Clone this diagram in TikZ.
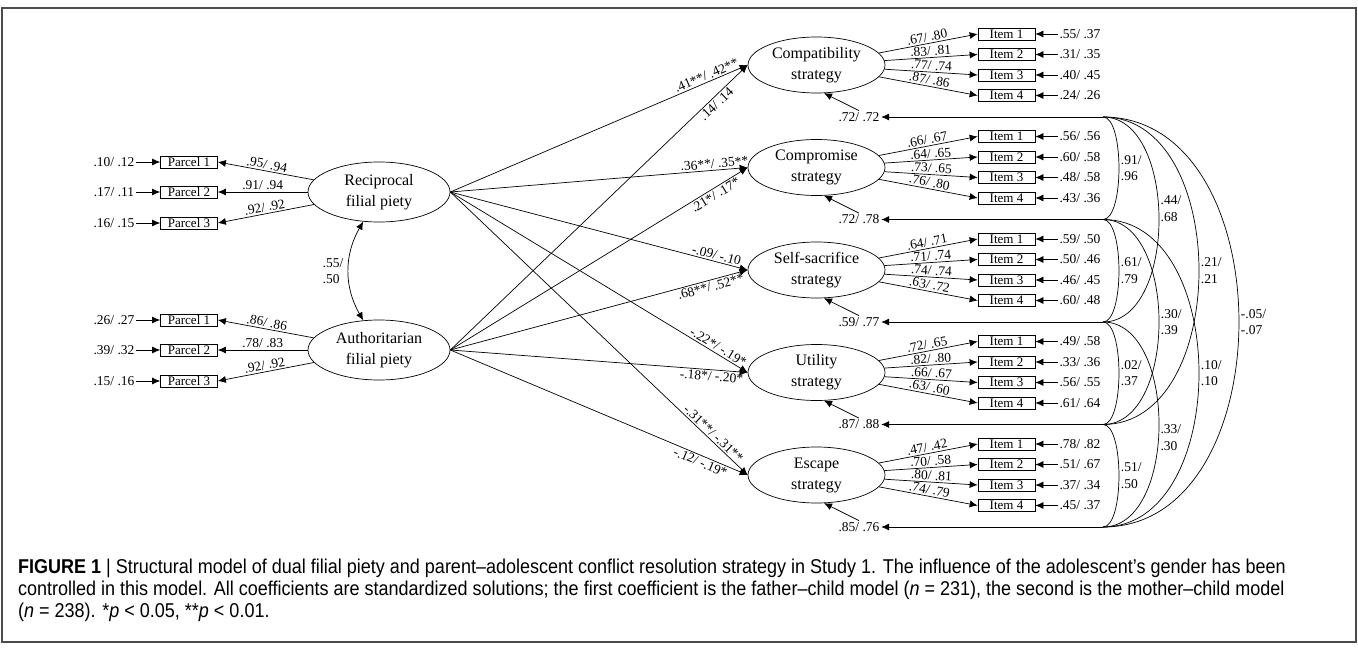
\documentclass[tikz,border=0pt]{standalone}
\usepackage{fontspec}
\setmainfont{Liberation Serif}
\newfontfamily\capfont[FakeStretch=0.9]{Liberation Sans}
\usetikzlibrary{shapes.geometric,arrows.meta}
\tikzstyle{latent}=[shape = ellipse, draw, line width = 0.7pt, inner sep = 0pt, align = center, font = \fontsize{16}{21}\selectfont]
\tikzstyle{latentL}=[latent, minimum width = 142pt, minimum height = 60pt]
\tikzstyle{latentR}=[latent, minimum width = 137pt, minimum height = 56pt]
\tikzstyle{observed}=[shape = rectangle, draw, line width = 0.7pt, minimum width = 57pt, minimum height = 12pt, inner sep = 0.5pt, font = \fontsize{13}{14}\selectfont]
\tikzstyle{val}=[inner sep = 1.6pt, font = \fontsize{13.5}{16.5}\selectfont]
\tikzstyle{arr}=[-{Latex[length=8pt,width=7pt]}, line width = 0.7pt]
\tikzstyle{twoway}=[{Latex[length=8pt,width=7pt]}-{Latex[length=8pt,width=7pt]}, line width = 0.7pt]
\tikzstyle{cov}=[line width = 0.7pt]

\begin{document}
\begin{tikzpicture}[x = 1pt, y = -1pt]
\tikzstyle{captext}=[anchor = base west, inner sep = 0pt, font = \capfont\fontsize{20}{22}\selectfont]
\useasboundingbox (0,0) rectangle (1358,650);
\draw[gray!60!black, line width = 1.2pt] (2,8) rectangle (1356,642);

\node[latentL] (rec) at (379,192) {Reciprocal\\filial piety};
\node[latentL] (aut) at (379,350) {Authoritarian\\filial piety};
\node[latentR] (cs1) at (816.5,65) {Compatibility\\strategy};
\node[latentR] (cs2) at (816.5,167.5) {Compromise\\strategy};
\node[latentR] (cs3) at (816.5,270) {Self-sacrifice\\strategy};
\node[latentR] (cs4) at (816.5,372.5) {Utility\\strategy};
\node[latentR] (cs5) at (816.5,475) {Escape\\strategy};

\node[observed] (rp1) at (189,162) {Parcel 1};
\node[observed] (rp2) at (189,192) {Parcel 2};
\node[observed] (rp3) at (189,223) {Parcel 3};
\node[observed] (ap1) at (189,320) {Parcel 1};
\node[observed] (ap2) at (189,350) {Parcel 2};
\node[observed] (ap3) at (189,381) {Parcel 3};
\node[val] (re1) at (114,162) {.10/ .12};
\node[val] (re2) at (114,192) {.17/ .11};
\node[val] (re3) at (114,223) {.16/ .15};
\node[val] (ae1) at (114,320) {.26/ .27};
\node[val] (ae2) at (114,350) {.39/ .32};
\node[val] (ae3) at (114,381) {.15/ .16};
\draw[arr] (re1) -- (rp1);
\draw[arr] (re2) -- (rp2);
\draw[arr] (re3) -- (rp3);
\draw[arr] (ae1) -- (ap1);
\draw[arr] (ae2) -- (ap2);
\draw[arr] (ae3) -- (ap3);
\draw[arr] (rec) -- node[val, sloped, above] {.95/ .94} (rp1.east);
\draw[arr] (rec) -- node[val, sloped, above] {.91/ .94} (rp2.east);
\draw[arr] (rec) -- node[val, sloped, above] {.92/ .92} (rp3.east);
\draw[arr] (aut) -- node[val, sloped, above] {.86/ .86} (ap1.east);
\draw[arr] (aut) -- node[val, sloped, above] {.78/ .83} (ap2.east);
\draw[arr] (aut) -- node[val, sloped, above] {.92/ .92} (ap3.east);
\draw[twoway] (rec.-118) to[bend right = 30] (aut.118);
\node[val, align = left] (c0) at (333,271) {.55/\\.50};

\draw[arr] (rec.east) -- node[val, sloped, above, pos = 0.87] {.41**/ .42**} (cs1.west);
\draw[arr] (aut.east) -- node[val, sloped, below, pos = 0.88] {.14/ .14} (cs1.west);
\draw[arr] (rec.east) -- node[val, sloped, above, pos = 0.89] {.36**/ .35**} (cs2.west);
\draw[arr] (aut.east) -- node[val, sloped, below, pos = 0.88] {.21*/ .17*} (cs2.west);
\draw[arr] (rec.east) -- node[val, sloped, above, pos = 0.89] {-.09/ -.10} (cs3.west);
\draw[arr] (aut.east) -- node[val, sloped, below, pos = 0.87] {.68**/ .52**} (cs3.west);
\draw[arr] (rec.east) -- node[val, sloped, above, pos = 0.89] {-.22*/ -.19*} (cs4.west);
\draw[arr] (aut.east) -- node[val, sloped, below, pos = 0.88] {-.18*/ -.20*} (cs4.west);
\draw[arr] (rec.east) -- node[val, sloped, above, pos = 0.87] {-.31**/ -.31**} (cs5.west);
\draw[arr] (aut.east) -- node[val, sloped, below, pos = 0.85] {-.12/ -.19*} (cs5.west);

\node[observed] (i11) at (1006.5,34) {Item 1};
\node[observed] (i12) at (1006.5,54.5) {Item 2};
\node[observed] (i13) at (1006.5,75) {Item 3};
\node[observed] (i14) at (1006.5,95.5) {Item 4};
\node[observed] (i21) at (1006.5,136.5) {Item 1};
\node[observed] (i22) at (1006.5,157) {Item 2};
\node[observed] (i23) at (1006.5,177.5) {Item 3};
\node[observed] (i24) at (1006.5,198) {Item 4};
\node[observed] (i31) at (1006.5,239) {Item 1};
\node[observed] (i32) at (1006.5,259.5) {Item 2};
\node[observed] (i33) at (1006.5,280) {Item 3};
\node[observed] (i34) at (1006.5,300.5) {Item 4};
\node[observed] (i41) at (1006.5,341.5) {Item 1};
\node[observed] (i42) at (1006.5,362) {Item 2};
\node[observed] (i43) at (1006.5,382.5) {Item 3};
\node[observed] (i44) at (1006.5,403) {Item 4};
\node[observed] (i51) at (1006.5,444) {Item 1};
\node[observed] (i52) at (1006.5,464.5) {Item 2};
\node[observed] (i53) at (1006.5,485) {Item 3};
\node[observed] (i54) at (1006.5,505.5) {Item 4};

\node[val] (e11) at (1080,34) {.55/ .37};
\node[val] (e12) at (1080,54.5) {.31/ .35};
\node[val] (e13) at (1080,75) {.40/ .45};
\node[val] (e14) at (1080,95.5) {.24/ .26};
\node[val] (e21) at (1080,136.5) {.56/ .56};
\node[val] (e22) at (1080,157) {.60/ .58};
\node[val] (e23) at (1080,177.5) {.48/ .58};
\node[val] (e24) at (1080,198) {.43/ .36};
\node[val] (e31) at (1080,239) {.59/ .50};
\node[val] (e32) at (1080,259.5) {.50/ .46};
\node[val] (e33) at (1080,280) {.46/ .45};
\node[val] (e34) at (1080,300.5) {.60/ .48};
\node[val] (e41) at (1080,341.5) {.49/ .58};
\node[val] (e42) at (1080,362) {.33/ .36};
\node[val] (e43) at (1080,382.5) {.56/ .55};
\node[val] (e44) at (1080,403) {.61/ .64};
\node[val] (e51) at (1080,444) {.78/ .82};
\node[val] (e52) at (1080,464.5) {.51/ .67};
\node[val] (e53) at (1080,485) {.37/ .34};
\node[val] (e54) at (1080,505.5) {.45/ .37};

\draw[arr] (e11) -- (i11);
\draw[arr] (e12) -- (i12);
\draw[arr] (e13) -- (i13);
\draw[arr] (e14) -- (i14);
\draw[arr] (e21) -- (i21);
\draw[arr] (e22) -- (i22);
\draw[arr] (e23) -- (i23);
\draw[arr] (e24) -- (i24);
\draw[arr] (e31) -- (i31);
\draw[arr] (e32) -- (i32);
\draw[arr] (e33) -- (i33);
\draw[arr] (e34) -- (i34);
\draw[arr] (e41) -- (i41);
\draw[arr] (e42) -- (i42);
\draw[arr] (e43) -- (i43);
\draw[arr] (e44) -- (i44);
\draw[arr] (e51) -- (i51);
\draw[arr] (e52) -- (i52);
\draw[arr] (e53) -- (i53);
\draw[arr] (e54) -- (i54);

\draw[arr] (cs1) -- node[val, sloped, above] {.67/ .80} (i11.west);
\draw[arr] (cs1) -- node[val, sloped, above] {.83/ .81} (i12.west);
\draw[arr] (cs1) -- node[val, sloped, above] {.77/ .74} (i13.west);
\draw[arr] (cs1) -- node[val, sloped, above] {.87/ .86} (i14.west);
\draw[arr] (cs2) -- node[val, sloped, above] {.66/ .67} (i21.west);
\draw[arr] (cs2) -- node[val, sloped, above] {.64/ .65} (i22.west);
\draw[arr] (cs2) -- node[val, sloped, above] {.73/ .65} (i23.west);
\draw[arr] (cs2) -- node[val, sloped, above] {.76/ .80} (i24.west);
\draw[arr] (cs3) -- node[val, sloped, above] {.64/ .71} (i31.west);
\draw[arr] (cs3) -- node[val, sloped, above] {.71/ .74} (i32.west);
\draw[arr] (cs3) -- node[val, sloped, above] {.74/ .74} (i33.west);
\draw[arr] (cs3) -- node[val, sloped, above] {.63/ .72} (i34.west);
\draw[arr] (cs4) -- node[val, sloped, above] {.72/ .65} (i41.west);
\draw[arr] (cs4) -- node[val, sloped, above] {.82/ .80} (i42.west);
\draw[arr] (cs4) -- node[val, sloped, above] {.66/ .67} (i43.west);
\draw[arr] (cs4) -- node[val, sloped, above] {.63/ .60} (i44.west);
\draw[arr] (cs5) -- node[val, sloped, above] {.47/ .42} (i51.west);
\draw[arr] (cs5) -- node[val, sloped, above] {.70/ .58} (i52.west);
\draw[arr] (cs5) -- node[val, sloped, above] {.80/ .81} (i53.west);
\draw[arr] (cs5) -- node[val, sloped, above] {.74/ .79} (i54.west);

\node[val] (r1) at (859,117) {.72/ .72};
\node[val] (r2) at (859,219.5) {.72/ .78};
\node[val] (r3) at (859,322) {.59/ .77};
\node[val] (r4) at (859,424.5) {.87/ .88};
\node[val] (r5) at (859,527) {.85/ .76};
\draw[arr] (r1.north) -- (cs1.-75);
\draw[arr] (r2.north) -- (cs2.-75);
\draw[arr] (r3.north) -- (cs3.-75);
\draw[arr] (r4.north) -- (cs4.-75);
\draw[arr] (r5.north) -- (cs5.-75);
\coordinate (h1) at (1103,117);
\coordinate (h2) at (1103,219.5);
\coordinate (h3) at (1103,322);
\coordinate (h4) at (1103,424.5);
\coordinate (h5) at (1103,527);
\draw[arr] (h1) -- (r1);
\draw[arr] (h2) -- (r2);
\draw[arr] (h3) -- (r3);
\draw[arr] (h4) -- (r4);
\draw[arr] (h5) -- (r5);

\draw[cov] (h1) .. controls +(21.3,0) and +(21.3,0) .. node[val, right, align = left] {.91/\\.96} (h2);
\draw[cov] (h2) .. controls +(21.3,0) and +(21.3,0) .. node[val, right, align = left] {.61/\\.79} (h3);
\draw[cov] (h3) .. controls +(21.3,0) and +(21.3,0) .. node[val, right, align = left] {.02/\\.37} (h4);
\draw[cov] (h4) .. controls +(21.3,0) and +(21.3,0) .. node[val, right, align = left] {.51/\\.50} (h5);
\draw[cov] (h1) .. controls +(74.7,0) and +(74.7,0) .. node[val, right, align = left, pos = 0.465] {.44/\\.68} (h3);
\draw[cov] (h2) .. controls +(74.7,0) and +(74.7,0) .. node[val, right, align = left] {.30/\\.39} (h4);
\draw[cov] (h3) .. controls +(74.7,0) and +(74.7,0) .. node[val, right, align = left, pos = 0.543] {.33/\\.30} (h5);
\draw[cov] (h1) .. controls +(128,0) and +(128,0) .. node[val, right, align = left] {.21/\\.21} (h4);
\draw[cov] (h2) .. controls +(128,0) and +(128,0) .. node[val, right, align = left] {.10/\\.10} (h5);
\draw[cov] (h1) .. controls +(181.3,0) and +(181.3,0) .. node[val, right, align = left] {-.05/\\-.07} (h5);

\node[captext] (cap1) at (18,573) {\textbf{FIGURE 1} | Structural model of dual filial piety and parent–adolescent conflict resolution strategy in Study 1. The influence of the adolescent’s gender has been};
\node[captext] (cap2) at (18,595) {controlled in this model. All coefficients are standardized solutions; the first coefficient is the father–child model (\textit{n} = 231), the second is the mother–child model};
\node[captext] (cap3) at (18,617) {(\textit{n} = 238). *\textit{p} < 0.05, **\textit{p} < 0.01.};
\end{tikzpicture}
\end{document}
